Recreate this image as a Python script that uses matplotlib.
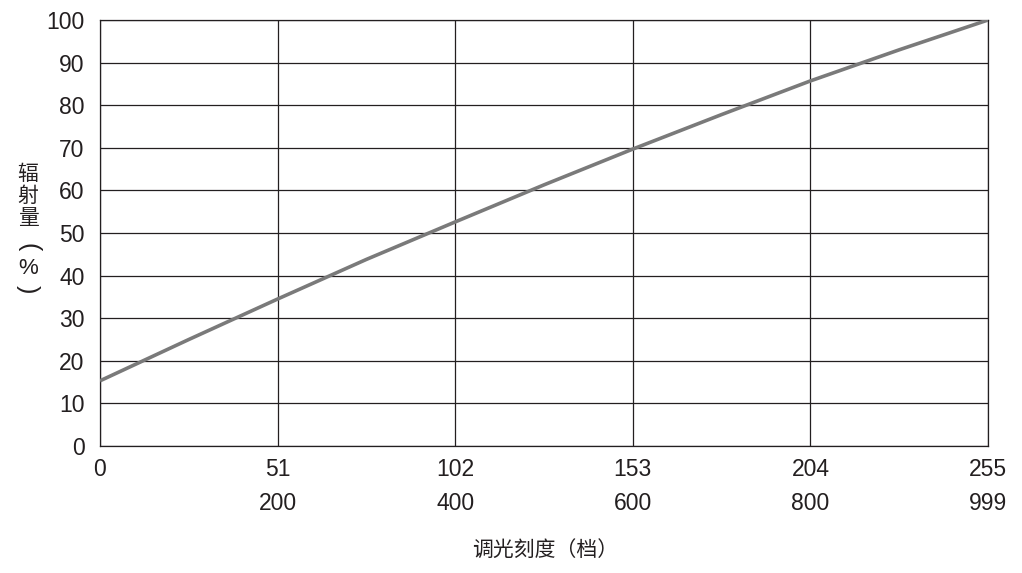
import matplotlib
matplotlib.use("Agg")
import matplotlib.pyplot as plt

plt.rcParams['font.family'] = ['Liberation Sans', 'Noto Sans CJK SC', 'DejaVu Sans']

# Data
x_levels = [0, 25.5, 51, 76.5, 102, 127.5, 153, 178.5, 204, 229.5, 255]
radiation = [15.3, 25.0, 34.5, 43.8, 52.6, 61.3, 69.7, 77.8, 85.7, 93.0, 100]
x_ticks = [0, 51, 102, 153, 204, 255]
x_tick_labels = ["0", "51\n200", "102\n400", "153\n600", "204\n800", "255\n999"]
y_ticks = [0, 10, 20, 30, 40, 50, 60, 70, 80, 90, 100]
x_label = "调光刻度（档）"
y_label_chars = ["辐", "射", "量", "(", "%", ")"]

fig = plt.figure(figsize=(10.22, 5.73), dpi=100)
ax = fig.add_axes([100/1022, (573-446)/573, 888/1022, 426/573])

ax.plot(x_levels, radiation, color='#7a7a7a', lw=2.6, solid_capstyle='butt', zorder=3)

ax.set_xlim(0, 255)
ax.set_ylim(0, 100)
ax.set_xticks(x_ticks)
ax.set_xticklabels(x_tick_labels, linespacing=1.6, va='top')
ax.set_yticks(y_ticks)
ax.tick_params(length=0, labelsize=16.5, colors='#231f20')
ax.tick_params(axis='x', pad=9)
ax.tick_params(axis='y', pad=11)
ax.grid(True, color='#231f20', lw=0.9)
for s in ax.spines.values():
    s.set_color('#231f20')
    s.set_linewidth(0.9)

fig.text(545/1022, 1 - 550/573, x_label, ha='center', va='center', fontsize=15,
         family=['Noto Sans CJK SC', 'DejaVu Sans'], color='#231f20')

ys = [174, 196, 218, 247, 268, 289]
for ch, yp in zip(y_label_chars, ys):
    if ch in "()":
        fig.text(28/1022, 1 - yp/573, ch, ha='center', va='center', fontsize=18,
                 family=['Liberation Sans'], color='#231f20', rotation=-90)
    elif ch == '%':
        fig.text(28/1022, 1 - yp/573, ch, ha='center', va='center', fontsize=16,
                 family=['Liberation Sans'], color='#231f20')
    else:
        fig.text(28/1022, 1 - yp/573, ch, ha='center', va='center', fontsize=15,
                 family=['Noto Sans CJK SC', 'DejaVu Sans'], color='#231f20')

fig.savefig('out.png', dpi=100)
